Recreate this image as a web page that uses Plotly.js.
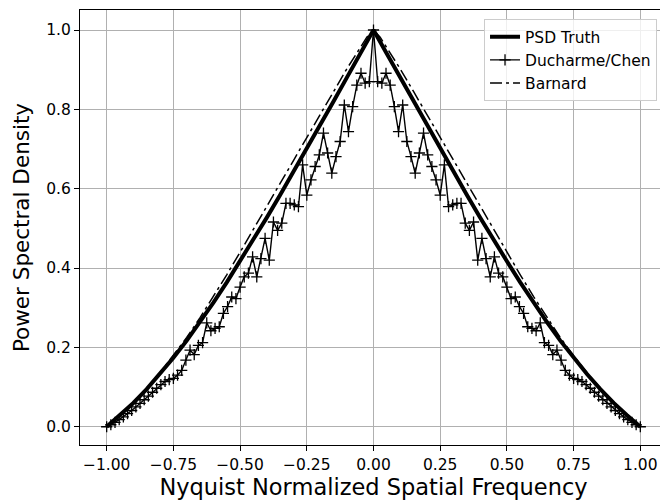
<!DOCTYPE html>
<html>
<head>
<meta charset="utf-8">
<script src="https://cdn.plot.ly/plotly-3.0.1.min.js"></script>
<style>
html, body { margin: 0; padding: 0; overflow: hidden; background: #fff; }
#chart { width: 670px; height: 503px; }
</style>
</head>
<body>
<div id="chart"></div>
<script>
// PSD Truth (read at 0.05 steps)
const freqTruth = [-1.00,-0.95,-0.90,-0.85,-0.80,-0.75,-0.70,-0.65,-0.60,-0.55,-0.50,-0.45,-0.40,-0.35,-0.30,-0.25,-0.20,-0.15,-0.10,-0.05,0.00,
                   0.05,0.10,0.15,0.20,0.25,0.30,0.35,0.40,0.45,0.50,0.55,0.60,0.65,0.70,0.75,0.80,0.85,0.90,0.95,1.00];
const psdTruth = [0.000,0.029,0.060,0.095,0.133,0.174,0.217,0.264,0.313,0.364,0.417,0.471,0.527,0.584,0.642,0.700,0.760,0.820,0.880,0.940,1.000,
                  0.940,0.880,0.820,0.760,0.700,0.642,0.584,0.527,0.471,0.417,0.364,0.313,0.264,0.217,0.174,0.133,0.095,0.060,0.029,0.000];

// Barnard estimate
const freqBarnard = [-1.00,-0.95,-0.90,-0.85,-0.80,-0.75,-0.70,-0.65,-0.60,-0.55,-0.50,-0.45,-0.40,-0.35,-0.30,-0.25,-0.20,-0.15,-0.10,-0.05,-0.025,0.00,
                     0.025,0.05,0.10,0.15,0.20,0.25,0.30,0.35,0.40,0.45,0.50,0.55,0.60,0.65,0.70,0.75,0.80,0.85,0.90,0.95,1.00];
const psdBarnard = [0.000,0.029,0.061,0.097,0.136,0.179,0.225,0.275,0.328,0.383,0.440,0.497,0.555,0.613,0.671,0.729,0.787,0.845,0.902,0.955,0.982,1.000,
                    0.982,0.955,0.902,0.845,0.787,0.729,0.671,0.613,0.555,0.497,0.440,0.383,0.328,0.275,0.225,0.179,0.136,0.097,0.061,0.029,0.000];

// Ducharme/Chen estimate (129 samples)
const freqDC = [-1.0000,-0.9844,-0.9688,-0.9531,-0.9375,-0.9219,-0.9063,-0.8906,-0.8750,-0.8594,-0.8438,-0.8281,-0.8125,-0.7969,-0.7813,-0.7656,
                -0.7500,-0.7344,-0.7188,-0.7031,-0.6875,-0.6719,-0.6563,-0.6406,-0.6250,-0.6094,-0.5938,-0.5781,-0.5625,-0.5469,-0.5313,-0.5156,
                -0.5000,-0.4844,-0.4688,-0.4531,-0.4375,-0.4219,-0.4063,-0.3906,-0.3750,-0.3594,-0.3438,-0.3281,-0.3125,-0.2969,-0.2813,-0.2656,
                -0.2500,-0.2344,-0.2188,-0.2031,-0.1875,-0.1719,-0.1563,-0.1406,-0.1250,-0.1094,-0.0938,-0.0781,-0.0625,-0.0469,-0.0313,-0.0156,
                0.0000,
                0.0156,0.0313,0.0469,0.0625,0.0781,0.0938,0.1094,0.1250,0.1406,0.1563,0.1719,0.1875,0.2031,0.2188,0.2344,0.2500,
                0.2656,0.2813,0.2969,0.3125,0.3281,0.3438,0.3594,0.3750,0.3906,0.4063,0.4219,0.4375,0.4531,0.4688,0.4844,0.5000,
                0.5156,0.5313,0.5469,0.5625,0.5781,0.5938,0.6094,0.6250,0.6406,0.6563,0.6719,0.6875,0.7031,0.7188,0.7344,0.7500,
                0.7656,0.7813,0.7969,0.8125,0.8281,0.8438,0.8594,0.8750,0.8906,0.9063,0.9219,0.9375,0.9531,0.9688,0.9844,1.0000];
const psdDC = [0.000,0.005,0.011,0.018,0.025,0.033,0.041,0.050,0.059,0.068,0.077,0.087,0.097,0.106,0.114,0.119,
               0.122,0.130,0.142,0.168,0.193,0.182,0.205,0.212,0.262,0.242,0.248,0.252,0.286,0.303,0.327,0.323,
               0.352,0.378,0.387,0.428,0.378,0.424,0.475,0.420,0.516,0.495,0.513,0.563,0.563,0.559,0.555,0.660,
               0.584,0.622,0.656,0.685,0.740,0.690,0.639,0.681,0.719,0.811,0.744,0.807,0.861,0.891,0.866,0.870,
               1.000,
               0.870,0.866,0.891,0.861,0.807,0.744,0.811,0.719,0.681,0.639,0.690,0.740,0.685,0.656,0.622,0.584,
               0.660,0.555,0.559,0.563,0.563,0.513,0.495,0.516,0.420,0.475,0.424,0.378,0.428,0.387,0.378,0.352,
               0.323,0.327,0.303,0.286,0.252,0.248,0.242,0.262,0.212,0.205,0.182,0.193,0.168,0.142,0.130,0.122,
               0.119,0.114,0.106,0.097,0.087,0.077,0.068,0.059,0.050,0.041,0.033,0.025,0.018,0.011,0.005,0.000];

const xTickVals = [-1.00,-0.75,-0.50,-0.25,0.00,0.25,0.50,0.75,1.00];
const yTickVals = [0.0,0.2,0.4,0.6,0.8,1.0];

const FONT = 'DejaVu Sans, Liberation Sans, sans-serif';

const traces = [
  { x: freqTruth, y: psdTruth, name: 'PSD Truth', mode: 'lines',
    line: { color: '#000', width: 4 } },
  { x: freqDC, y: psdDC, name: 'Ducharme/Chen', mode: 'lines+markers',
    line: { color: '#000', width: 1.4 },
    marker: { symbol: 'cross-thin-open', size: 8, color: '#000', line: { color: '#000', width: 1.3 } } },
  { x: freqBarnard, y: psdBarnard, name: 'Barnard', mode: 'lines',
    line: { color: '#000', width: 1.5, dash: '12px,4px,3px,4px' } }
];

const layout = {
  width: 670, height: 503,
  margin: { l: 80, r: 3, t: 10, b: 58 },
  paper_bgcolor: '#fff', plot_bgcolor: '#fff',
  font: { family: FONT, size: 15.5, color: '#000' },
  showlegend: true,
  legend: {
    x: 0.983, y: 0.979, xanchor: 'right', yanchor: 'top',
    bgcolor: 'rgba(255,255,255,0.8)', bordercolor: '#cccccc', borderwidth: 1,
    font: { family: FONT, size: 15.5, color: '#000' }
  },
  xaxis: {
    range: [-1.1, 1.1], tickvals: xTickVals, tickformat: '.2f',
    showgrid: true, gridcolor: '#b0b0b0', gridwidth: 1, zeroline: false,
    showline: true, linecolor: '#000', linewidth: 1, mirror: true,
    ticks: 'outside', ticklen: 5, tickwidth: 1, tickcolor: '#000',
    tickfont: { family: FONT, size: 15.5, color: '#000' },
    title: { text: 'Nyquist Normalized Spatial Frequency', font: { family: FONT, size: 22.5, color: '#000' }, standoff: 6 }
  },
  yaxis: {
    range: [-0.046, 1.0504], tickvals: yTickVals, tickformat: '.1f',
    showgrid: true, gridcolor: '#b0b0b0', gridwidth: 1, zeroline: false,
    showline: true, linecolor: '#000', linewidth: 1, mirror: true,
    ticks: 'outside', ticklen: 5, tickwidth: 1, tickcolor: '#000',
    tickfont: { family: FONT, size: 15.5, color: '#000' },
    title: { text: 'Power Spectral Density', font: { family: FONT, size: 21.5, color: '#000' }, standoff: 10 }
  }
};

Plotly.newPlot('chart', traces, layout, { staticPlot: true, displayModeBar: false });
</script>
</body>
</html>
